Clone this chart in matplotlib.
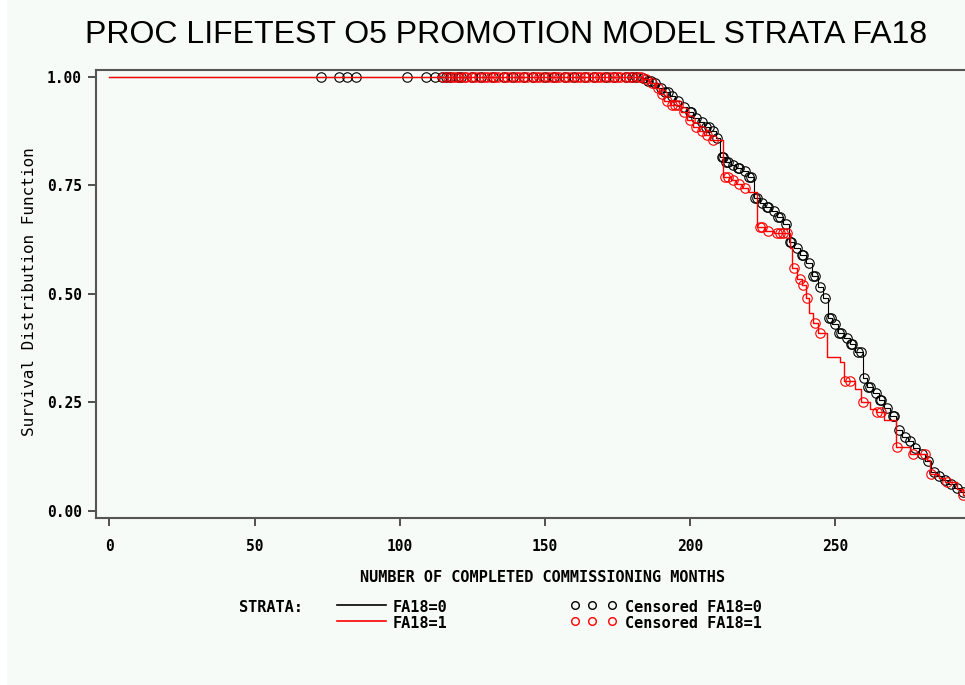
import matplotlib
matplotlib.use("Agg")
import matplotlib.pyplot as plt
from matplotlib.lines import Line2D
from matplotlib.patches import Rectangle
import numpy as np

# step curves: time of each drop and survival after the drop
fa0_time = [0, 183, 185, 187, 189, 191, 193, 195, 197, 199, 201, 203, 205, 207, 209,
            210.5, 212, 214, 216, 218, 220, 222, 224, 226, 228, 230, 232, 234, 236, 238,
            240, 242, 244, 246, 247.5, 249, 251, 253, 255, 257, 259.5, 261, 263, 265,
            267, 269, 271, 273, 275, 277, 279, 281, 283, 285, 287, 289, 291, 293]
fa0_surv = [1.0, 0.997, 0.99, 0.985, 0.975, 0.965, 0.955, 0.945, 0.93, 0.92, 0.905, 0.895,
            0.885, 0.875, 0.86, 0.815, 0.805, 0.798, 0.79, 0.782, 0.77, 0.72, 0.71, 0.70,
            0.69, 0.678, 0.662, 0.62, 0.605, 0.59, 0.57, 0.54, 0.515, 0.49, 0.445, 0.43,
            0.41, 0.398, 0.385, 0.365, 0.305, 0.285, 0.272, 0.255, 0.237, 0.218, 0.185,
            0.17, 0.16, 0.145, 0.13, 0.115, 0.09, 0.08, 0.07, 0.062, 0.052, 0.042]

fa1_time = [0, 184, 186, 188, 189.5, 191, 193, 197, 199, 201, 203, 205, 207, 211.3, 214,
            216, 218, 220, 223, 226, 229, 234.5, 235.2, 237, 238.5, 240, 241, 242.5, 244,
            247.2, 251.7, 253, 257, 259, 262, 264, 267, 271, 276, 281.7, 282.8, 286, 288,
            292, 294]
fa1_surv = [1.0, 0.995, 0.985, 0.975, 0.96, 0.945, 0.935, 0.92, 0.90, 0.885, 0.875, 0.865,
            0.855, 0.77, 0.762, 0.752, 0.744, 0.735, 0.655, 0.645, 0.64, 0.605, 0.56, 0.535,
            0.52, 0.49, 0.455, 0.432, 0.41, 0.355, 0.343, 0.30, 0.28, 0.25, 0.235, 0.228,
            0.21, 0.147, 0.13, 0.117, 0.085, 0.075, 0.066, 0.05, 0.037]

# censored times
fa0_cens = [73, 79, 82, 85, 102.5, 109, 112, 114.5, 116, 117.5, 120, 121, 125, 128, 132,
            136, 139, 143, 146, 150, 153, 157, 160, 164, 167, 171, 174, 178, 180, 181.5,
            184, 185.5, 186.5, 188, 190, 191.5, 192.5, 194, 196, 198, 200, 200.5, 202, 204,
            205.5, 206.5, 208, 209.5, 211, 211.5, 212.5, 213, 215, 216.5, 217, 219, 220.5,
            221, 222.5, 223, 225, 226.5, 227, 229, 230.5, 231, 233, 234.5, 235, 237, 238.5,
            239, 241, 242.5, 243, 245, 246.5, 248, 248.5, 250, 251.5, 252, 254, 255.5, 256,
            258, 259, 260, 261.5, 262, 264, 265.5, 266, 268, 270, 270.5, 272, 274, 276,
            277.5, 280, 282, 284, 286, 288, 290, 292, 294]
fa1_cens = [115, 116.5, 118, 119, 120.5, 122, 123, 124.5, 126, 127.5, 129, 130, 131.5, 133,
            134, 135.5, 137, 138.5, 140, 141, 142.5, 144, 145.5, 147, 148, 149.5, 151, 152.5,
            154, 155, 156.5, 158, 159.5, 161, 162, 163.5, 165, 166.5, 168, 169, 170.5, 172,
            173.5, 175, 176, 177.5, 179, 180.5, 182, 183, 185, 187, 189, 190.5, 192, 194,
            195, 196, 198, 200, 202, 204, 206, 208, 212, 213, 215, 217, 219, 224, 225, 227,
            230, 231, 232, 233.5, 236, 238, 239, 240.5, 243, 245, 253.5, 255, 259.5, 264.5,
            266, 271.5, 277, 281, 283, 288.5, 294]

x_ticks = [0, 50, 100, 150, 200, 250]
y_ticks = [0.0, 0.25, 0.5, 0.75, 1.0]

bg = '#f6fbf8'
mono = 'DejaVu Sans Mono'


def surv_at(times, surv, t):
    idx = np.searchsorted(times, t, side='right') - 1
    return np.array(surv)[idx]


fig = plt.figure(figsize=(9.65, 6.85), dpi=100, facecolor=bg)
fig.patches.append(Rectangle((0, 0), 7 / 965, 1, transform=fig.transFigure,
                             facecolor='white', edgecolor='none', zorder=0))

ax = fig.add_axes([96 / 965, 167 / 685, 874 / 965, 448 / 685])
ax.set_facecolor(bg)

end = 300
ax.step(fa0_time + [end], fa0_surv + [fa0_surv[-1]], where='post', color='black',
        lw=0.8, zorder=2)
ax.plot(fa0_cens, surv_at(fa0_time, fa0_surv, fa0_cens), 'o', ms=6.8, mfc='none',
        mec='black', mew=0.8, zorder=3)
ax.step(fa1_time + [end], fa1_surv + [fa1_surv[-1]], where='post', color='red',
        lw=1.0, zorder=4)
ax.plot(fa1_cens, surv_at(fa1_time, fa1_surv, fa1_cens), 'o', ms=6.8, mfc='none',
        mec='red', mew=0.8, zorder=5)

ax.set_xlim(-4.65, -4.65 + 874 / 2.902)
ax.set_ylim(-0.017, 1.016)
ax.spines['right'].set_visible(False)
for s in ['left', 'top', 'bottom']:
    ax.spines[s].set_color('#555555')
    ax.spines[s].set_linewidth(1.5)

ax.set_xticks(x_ticks)
ax.set_xticklabels([str(v) for v in x_ticks])
ax.set_yticks(y_ticks)
ax.set_yticklabels(['%.2f' % v for v in y_ticks])
ax.tick_params(direction='out', length=6, width=1.2, color='#333333')
ax.tick_params(axis='x', pad=9)
ax.tick_params(axis='y', pad=4)
for lab in ax.get_xticklabels() + ax.get_yticklabels():
    lab.set_family(mono)
    lab.set_weight('bold')
    lab.set_fontsize(10.5)

fig.text(506 / 965, 1 - 35 / 685, 'PROC LIFETEST O5 PROMOTION MODEL STRATA FA18',
         ha='center', va='center', fontsize=23, family='Liberation Sans')
fig.text(30 / 965, 1 - 292 / 685, 'Survival Distribution Function', rotation=90,
         ha='center', va='center', fontsize=11.5, family=mono)
fig.text(543 / 965, 1 - 577 / 685, 'NUMBER OF COMPLETED COMMISSIONING MONTHS',
         ha='center', va='center', fontsize=11, family=mono, weight='bold')

# legend
def fx(px):
    return px / 965


def fy(py):
    return 1 - py / 685


fig.text(fx(239), fy(607), 'STRATA:', ha='left', va='center', fontsize=11,
         family=mono, weight='bold')
for py, col, name in [(605, 'black', 'FA18=0'), (621, 'red', 'FA18=1')]:
    fig.lines.append(Line2D([fx(337), fx(386)], [fy(py), fy(py)], color=col, lw=1.2,
                            transform=fig.transFigure))
    fig.text(fx(393), fy(py + 2), name, ha='left', va='center', fontsize=11,
             family=mono, weight='bold')
    fig.lines.append(Line2D([fx(575), fx(592), fx(612)], [fy(py)] * 3, ls='none',
                            marker='o', ms=5.5, mfc='none', mec=col, mew=1,
                            transform=fig.transFigure))
    fig.text(fx(625), fy(py + 2), 'Censored ' + name, ha='left', va='center',
             fontsize=11, family=mono, weight='bold')

fig.savefig('out.png', dpi=100, facecolor=bg)
